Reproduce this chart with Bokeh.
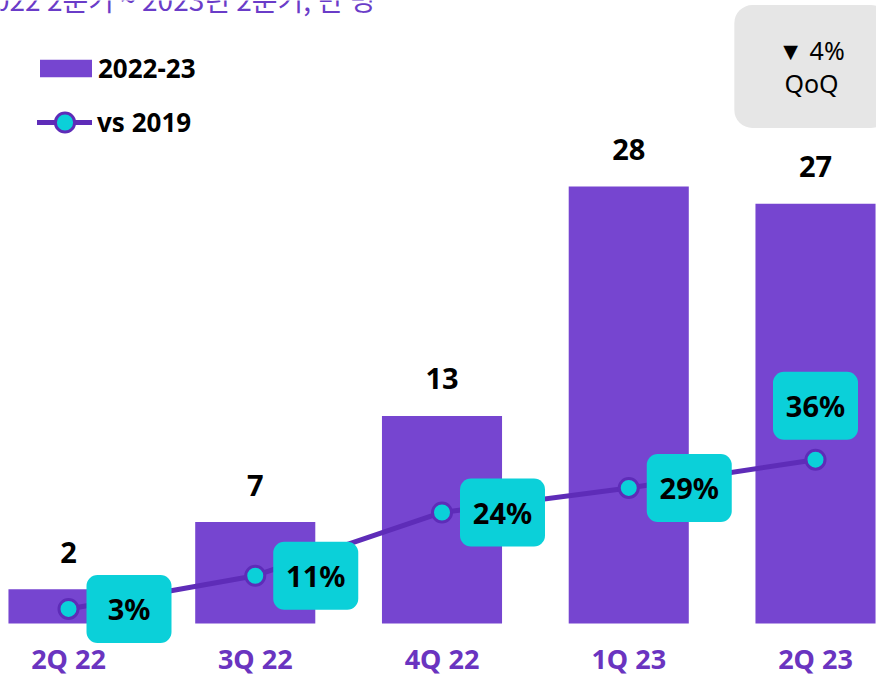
from bokeh.plotting import figure
from bokeh.models import Range1d, ColumnDataSource, Legend, LegendItem, Label
from bokeh.core.properties import value
from bokeh.embed import file_html
from bokeh.resources import INLINE

# ---- data ----
quarters = ["2Q 22", "3Q 22", "4Q 22", "1Q 23", "2Q 23"]
bar_values = [2.2, 6.5, 13.3, 28.0, 26.9]
bar_labels = ["2", "7", "13", "28", "27"]
vs2019 = [3.2, 10.5, 24.4, 29.8, 36.0]
vs2019_labels = ["3%", "11%", "24%", "29%", "36%"]
series_names = ["2022-23", "vs 2019"]
title_text = "2022 2분기 ~ 2023년 2분기, 만 명"
qoq_text = "▼ 4%\nQoQ"

# ---- style ----
BAR = "#7645d0"
LINE = "#5e2cb8"
CYAN = "#0bd0d9"
AXIS_PURPLE = "#6a34c0"
FONT = "Noto Sans"
PX_PER_CAT = 186.75
PX_PER_UNIT = 15.607
PX_PER_PCT = 4.55
W, H, BASE = 876, 678, 623

xs = list(range(len(quarters)))
x0 = -68 / PX_PER_CAT

p = figure(width=W, height=H, output_backend="svg", toolbar_location=None,
           x_range=Range1d(x0, x0 + W / PX_PER_CAT),
           y_range=Range1d(-(H - BASE) / PX_PER_UNIT, BASE / PX_PER_UNIT),
           x_axis_location=None, y_axis_location=None, min_border=0)
p.extra_y_ranges = {"pct": Range1d(-(H - BASE) / PX_PER_PCT, BASE / PX_PER_PCT)}
p.outline_line_color = None
p.xgrid.visible = False
p.ygrid.visible = False

# bars
src = ColumnDataSource(dict(x=xs, top=bar_values, lab=bar_labels,
                            base=[0] * len(xs), q=quarters))
bar_r = p.vbar(x="x", top="top", width=0.643, source=src, fill_color=BAR,
               line_color=None)
p.text(x="x", y="top", text="lab", source=src, text_align="center",
       text_baseline="middle", y_offset=-37, text_font=value(FONT),
       text_font_style="bold", text_font_size="29px", text_color="black")
# category labels under the bars
p.text(x="x", y="base", text="q", source=src, text_align="center",
       text_baseline="middle", y_offset=35, text_font=value(FONT),
       text_font_style="bold", text_font_size="27px", text_color=AXIS_PURPLE)

# line + markers
lsrc = ColumnDataSource(dict(x=xs, y=vs2019))
line_r = p.line(x="x", y="y", source=lsrc, line_width=5, line_color=LINE,
                line_cap="round", y_range_name="pct")
pts_r = p.scatter(x="x", y="y", source=lsrc, marker="circle", size=19,
                  fill_color=CYAN, line_color=LINE, line_width=3,
                  y_range_name="pct")

# label boxes (right of the point, last one above)
dx_right = 60.5 / PX_PER_CAT
dy_above = 54 / PX_PER_PCT
lab_x, lab_y = [], []
for i, v in enumerate(vs2019):
    if i < len(vs2019) - 1:
        lab_x.append(i + dx_right); lab_y.append(v)
    else:
        lab_x.append(i); lab_y.append(v + dy_above)
bsrc = ColumnDataSource(dict(x=lab_x, y=lab_y, lab=vs2019_labels))
p.rect(x="x", y="y", width=85, height=68, width_units="screen",
       height_units="screen", source=bsrc, fill_color=CYAN, line_color=None,
       border_radius=11, y_range_name="pct")
p.text(x="x", y="y", text="lab", source=bsrc, text_align="center",
       text_baseline="middle", text_font=value(FONT), text_font_style="bold",
       text_font_size="29px", text_color="black", y_range_name="pct")

# legends
leg_common = dict(padding=0, margin=0, border_line_color=None,
                  background_fill_alpha=0, label_text_font=FONT,
                  label_text_font_style="bold", label_text_font_size="26px",
                  label_text_color="black")
leg1 = Legend(items=[LegendItem(label=series_names[0], renderers=[bar_r])],
              location=(33, H - 86), glyph_width=65, glyph_height=22,
              label_standoff=0, **leg_common)
leg2 = Legend(items=[LegendItem(label=series_names[1], renderers=[line_r, pts_r])],
              location=(37, H - 146), glyph_width=55, glyph_height=48,
              label_standoff=5, **leg_common)
p.add_layout(leg1)
p.add_layout(leg2)

# QoQ badge
p.add_layout(Label(x=811, y=H - 66, x_units="screen", y_units="screen",
                   text=qoq_text, text_align="center", text_baseline="middle",
                   text_font=FONT, text_font_size="25px", text_color="black",
                   background_fill_color="#e6e6e6", border_radius=18,
                   padding=(44, 28), text_line_height=0.97))

# subtitle, cut at the top edge as in the source
p.add_layout(Label(x=-22, y=H + 2, x_units="screen", y_units="screen",
                   text=title_text, text_align="left", text_baseline="alphabetic",
                   text_font="Noto Sans CJK KR", text_font_size="28px",
                   text_color="#6a3cc8"))

open("out.html", "w").write(file_html(p, INLINE))
